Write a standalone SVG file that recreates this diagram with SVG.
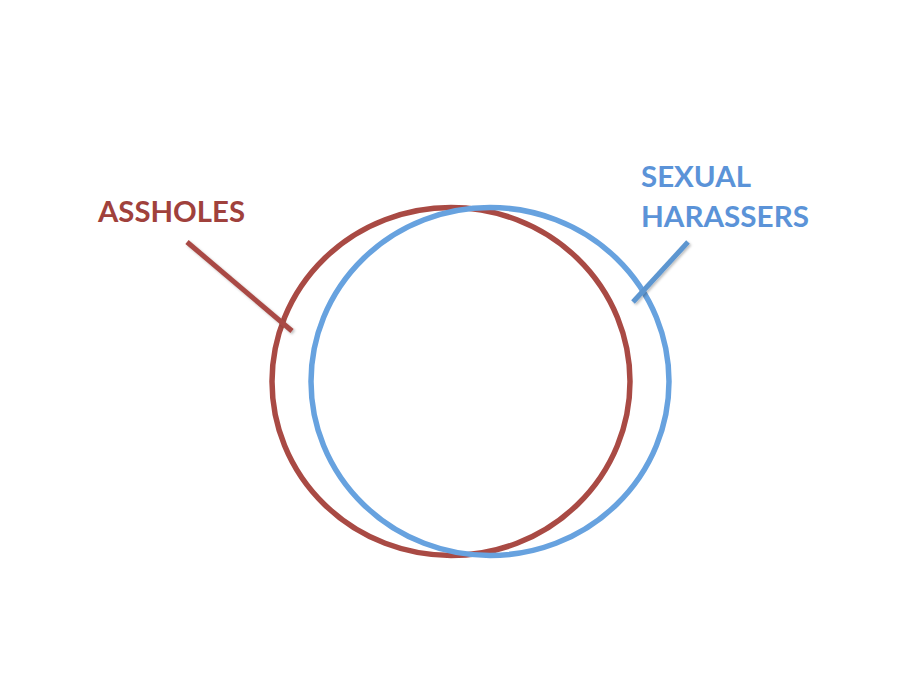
<svg xmlns="http://www.w3.org/2000/svg" width="900" height="675" viewBox="0 0 900 675">
<style>
.lbl{font-family:Lato,"Open Sans","Liberation Sans",sans-serif;font-weight:bold;font-size:29px}
.red{fill:#A0413C}
.blue{fill:#5B93D8}
.ring{fill:none;stroke-width:5.5}
</style>
<defs>
<filter id="sh" x="-20%" y="-20%" width="140%" height="140%">
<feDropShadow dx="1.5" dy="1.5" stdDeviation="1" flood-color="#000" flood-opacity="0.25"/>
</filter>
</defs>
<rect width="900" height="675" fill="#fff"/>
<g id="assholes">
<ellipse class="ring" cx="451" cy="381.5" rx="179" ry="174" stroke="#A94A44"/>
<text class="lbl red" x="98" y="222" textLength="147" lengthAdjust="spacingAndGlyphs">ASSHOLES</text>
</g>
<g id="sexual-harassers">
<ellipse class="ring" cx="490" cy="381.5" rx="179" ry="174" stroke="#67A2DF"/>
<text class="lbl blue" x="641" y="187" textLength="110" lengthAdjust="spacingAndGlyphs">SEXUAL</text>
<text class="lbl blue" x="641" y="227" textLength="168" lengthAdjust="spacingAndGlyphs">HARASSERS</text>
</g>
<g id="connectors" filter="url(#sh)" stroke-width="5">
<line x1="187" y1="242" x2="292" y2="331" stroke="#A94A44"/>
<line x1="688" y1="242" x2="633" y2="302" stroke="#5D96D0"/>
</g>
</svg>
